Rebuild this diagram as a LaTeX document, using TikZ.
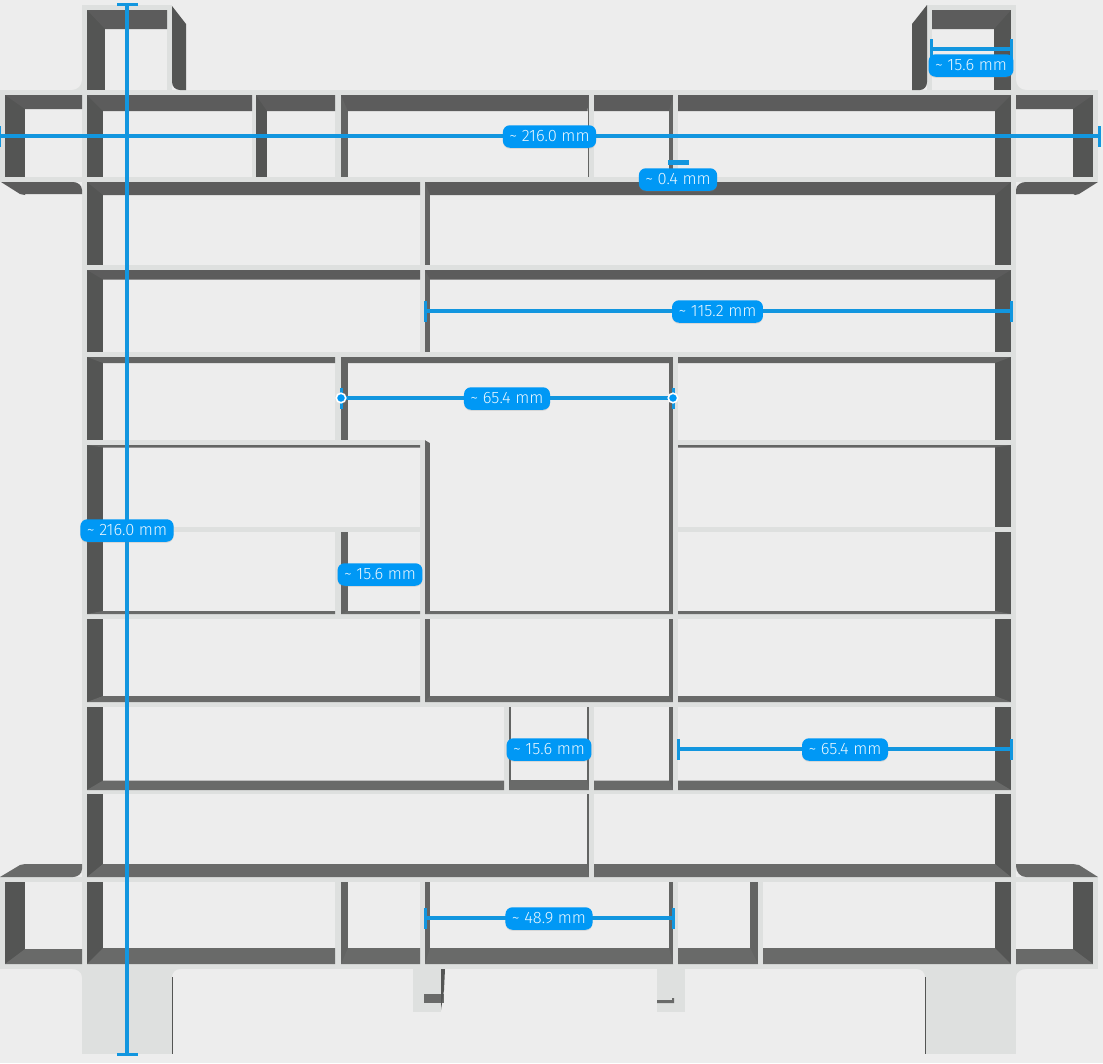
\documentclass[tikz,border=0pt]{standalone}
\usepackage{fontspec}
\setmainfont{Fira Sans Light}
\usetikzlibrary{arrows.meta,shadows}

\definecolor{sheetgray}{HTML}{EDEDED}
\definecolor{wallgray}{HTML}{DEE0DF}
\definecolor{sidegray}{HTML}{545554}
\definecolor{topgray}{HTML}{5C5C5C}
\definecolor{lowgray}{HTML}{696A69}
\definecolor{thingray}{HTML}{636463}
\definecolor{dimblue}{HTML}{1296DF}
\definecolor{badgeblue}{HTML}{0098F5}
\definecolor{badgetext}{HTML}{EAF7FF}

\tikzset{
  wall/.style={fill=wallgray},
  dimline/.style={draw=dimblue, line width=3.2pt, {Rectangle[width=21pt,length=3pt]}-{Rectangle[width=21pt,length=3pt]}},
  badge/.style={fill=badgeblue, text=badgetext, rounded corners=7pt, inner xsep=6.5pt, minimum height=22.5pt, font=\fontsize{16.5}{18}\selectfont, drop shadow={opacity=.2,shadow xshift=0pt,shadow yshift=-1pt}},
  endmark/.style={circle, draw=white, fill=badgeblue, line width=1.6pt, inner sep=0pt, minimum size=9.5pt},
}

\newcommand{\pocket}[8]{
  \fill[sheetgray] (#1,#2) rectangle (#3,#4);
  \ifdim#5pt>0pt
    \ifdim#5pt<9pt \def\sidecol{thingray}\else \def\sidecol{sidegray}\fi
    \fill[\sidecol] (#1,#2) rectangle (#1+#5,#4);
  \fi
  \ifdim#7pt>0pt
    \ifdim#7pt<9pt \def\sidecol{thingray}\else \def\sidecol{sidegray}\fi
    \fill[\sidecol] (#3,#2) rectangle (#3-#7,#4);
  \fi
  \ifdim#6pt>0pt
    \ifdim#6pt<9pt \def\sidecol{thingray}\else \def\sidecol{topgray}\fi
    \fill[\sidecol] (#1,#2) -- (#1+#5,#2+#6) -- (#3-#7,#2+#6) -- (#3,#2) -- cycle;
  \fi
  \ifdim#8pt>0pt
    \fill[lowgray] (#1,#4) -- (#1+#5,#4-#8) -- (#3-#7,#4-#8) -- (#3,#4) -- cycle;
  \fi
}

\begin{document}
\begin{tikzpicture}[x=1pt,y=-1pt]
  \useasboundingbox (0,0) rectangle (1103,1063);
  \fill[sheetgray] (0,0) rectangle (1103,1063);

  \fill[wall] (82,90) rectangle (1016,969);
  \fill[wall] (0,90) rectangle (1098,182);
  \fill[wall] (0,877) rectangle (1098,969);
  \fill[wall] (82,5) rectangle (172,90);
  \fill[wall] (927,5) rectangle (1016,90);
  \fill[wall] (82,969) rectangle (172,1054);
  \fill[wall] (925,969) rectangle (1016,1054);
  \fill[wall] (413,969) rectangle (441,1012);
  \fill[wall] (657,969) rectangle (685,1012);

  \fill[wall] (82,80) to[out=-90,in=0] (72,90) -- (82,90) -- cycle;
  \fill[wall] (1016,80) to[out=-90,in=180] (1026,90) -- (1016,90) -- cycle;
  \fill[wall] (82,977) to[out=90,in=0] (72,969) -- (82,969) -- cycle;
  \fill[wall] (172,977) to[out=90,in=180] (180,969) -- (172,969) -- cycle;
  \fill[wall] (925,977) to[out=90,in=0] (917,969) -- (925,969) -- cycle;
  \fill[wall] (1016,977) to[out=90,in=180] (1026,969) -- (1016,969) -- cycle;

  \foreach \xa/\ya/\xb/\yb/\wl/\wt/\wr/\wb in {
    87/10/167/90/18/19/0/0, 932/10/1011/90/0/19/17/0,
    5/95/82/177/20/14/0/0, 1016/95/1093/177/0/14/20/0,
    5/882/82/964/20/0/0/15, 1016/882/1093/964/0/0/20/15,
    87/95/252/177/16/16/0/0, 256/95/335/177/11/16/0/0, 341/95/589/177/7/16/1.5/0,
    594/95/673/177/0/16/4/0, 678/95/1011/177/0/16/16/0,
    87/182/420/265/16/13/0/0, 425/182/1011/265/5/13/16/0,
    87/270/420/352/16/9.5/0/0, 425/270/1011/352/5/9.5/16/0,
    87/357/335/440/16/6/0/0, 341/357/673/440/7/6/4/0, 678/357/1011/440/0/6/16/0,
    425/440/673/614/5/0/4/3,
    87/445/420/527/16/2.5/0/0, 678/445/1011/527/0/2.5/16/0,
    87/532/335/614/16/0/0/3, 341/532/420/614/7/0/0/3, 678/532/1011/614/0/0/16/3,
    87/619/420/702/16/0/0/6, 425/619/673/702/5/0/4/6, 678/619/1011/702/0/0/16/6,
    87/707/504/790/16/0/0/9.5, 509/707/589/790/1.5/0/2/10,
    594/707/673/790/0/0/4/9.5, 678/707/1011/790/0/0/16/9.5,
    87/794/589/877/16/0/2/13, 594/794/1011/877/0/0/16/13,
    87/882/335/964/16/0/0/16, 341/882/420/964/7/0/0/16, 425/882/673/964/5/0/4/16,
    678/882/758/964/0/0/8/16, 763/882/1011/964/0/0/16/16
  } {
    \pocket{\xa}{\ya}{\xb}{\yb}{\wl}{\wt}{\wr}{\wb}
  }

  \fill[sheetgray] (425,440) -- (430,440) -- (430,443) -- cycle;
  \fill[sidegray] (172,6) -- (186,24) -- (186,90) -- (180,90) to[out=180,in=-90] (172,82) -- cycle;
  \fill[sidegray] (927,5) -- (912,24) -- (912,90) -- (920,90) to[out=0,in=-90] (927,82) -- cycle;
  \fill[topgray] (1,182) -- (20,194) -- (25,195) -- (25,194) -- (82,194) -- (82,190) to[out=90,in=0] (73,182) -- cycle;
  \fill[topgray] (1016,190) to[out=90,in=180] (1026,182) -- (1098,182) -- (1079,194) -- (1075,195) -- (1073,194) -- (1016,194) -- cycle;
  \fill[lowgray] (0,877) -- (20,865) -- (25,864) -- (82,864) -- (82,869) to[out=-90,in=0] (73,877) -- cycle;
  \fill[lowgray] (1016,866) to[out=-90,in=180] (1026,877) -- (1098,877) -- (1079,865) -- (1073,864) -- (1016,864) -- cycle;

  \fill[sidegray] (172,977) rectangle (173,1054);
  \fill[sidegray] (925,977) rectangle (926,1054);
  \fill[lowgray] (424,994) -- (444,994) -- (444,1003) -- (424,1003) -- cycle;
  \fill[sidegray] (441,969) -- (445,969) -- (444,990) -- (441,1010) -- cycle;
  \fill[lowgray] (657,1000) -- (672,1000) -- (672,998) -- (674,998) -- (674,1003) -- (657,1003) -- cycle;

  \coordinate (spanTop) at (127,3);
  \coordinate (spanBot) at (127,1056);
  \coordinate (spanLeft) at (-2,136);
  \coordinate (spanRight) at (1100.5,136);
  \coordinate (tabLeft) at (930,49);
  \coordinate (tabRight) at (1013,49);
  \coordinate (gapLeft) at (668,162);
  \coordinate (gapRight) at (689,162);
  \coordinate (wideLeft) at (424,311);
  \coordinate (wideRight) at (1013,311);
  \coordinate (midLeft) at (339.5,398);
  \coordinate (midRight) at (674.5,398);
  \coordinate (lowLeft) at (677,749);
  \coordinate (lowRight) at (1013,749);
  \coordinate (footLeft) at (424,918);
  \coordinate (footRight) at (675,918);

  \draw[dimline] (spanTop) -- (spanBot);
  \draw[dimline] (spanLeft) -- (spanRight);
  \draw[dimline] (tabLeft) -- (tabRight);
  \draw[draw=dimblue, line width=5pt] (gapLeft) -- (gapRight);
  \draw[dimline] (wideLeft) -- (wideRight);
  \draw[dimline] (midLeft) -- (midRight);
  \draw[dimline] (lowLeft) -- (lowRight);
  \draw[dimline] (footLeft) -- (footRight);

  \node[endmark] (markLeft) at (341,398) {};
  \node[endmark] (markRight) at (673,398) {};

  \node[badge] (spanV) at (127,530.5) {\textasciitilde{} 216.0 mm};
  \node[badge] (spanH) at (549.5,136.5) {\textasciitilde{} 216.0 mm};
  \node[badge] (tabLabel) at (971,65.5) {\textasciitilde{} 15.6 mm};
  \node[badge] (gapLabel) at (678,179.5) {\textasciitilde{} 0.4 mm};
  \node[badge] (wideLabel) at (717.5,311.5) {\textasciitilde{} 115.2 mm};
  \node[badge] (midLabel) at (507,398.5) {\textasciitilde{} 65.4 mm};
  \node[badge] (sideLabel) at (380,574.5) {\textasciitilde{} 15.6 mm};
  \node[badge] (slotLabel) at (549,749.5) {\textasciitilde{} 15.6 mm};
  \node[badge] (lowLabel) at (845,749.5) {\textasciitilde{} 65.4 mm};
  \node[badge] (footLabel) at (549,918.5) {\textasciitilde{} 48.9 mm};
\end{tikzpicture}
\end{document}
